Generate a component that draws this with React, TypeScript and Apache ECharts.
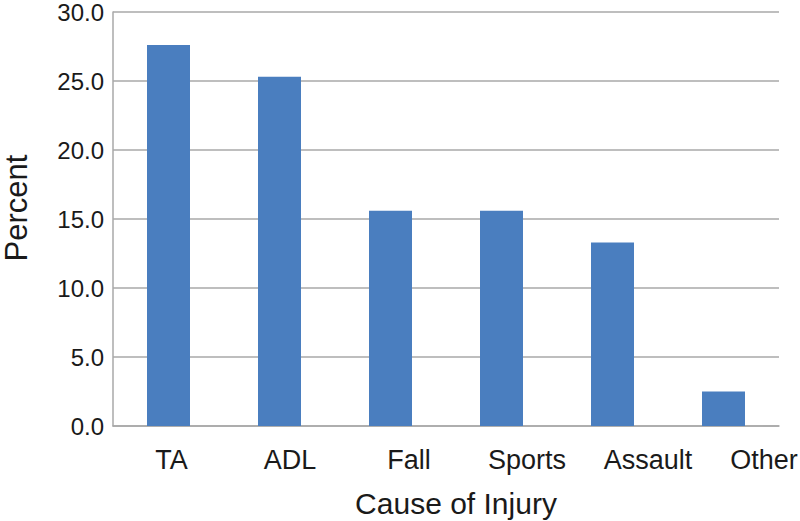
import React, { useEffect, useRef } from "react";
import * as echarts from "echarts";

const categories = ["TA", "ADL", "Fall", "Sports", "Assault", "Other"];
const percentValues = [27.6, 25.3, 15.6, 15.6, 13.3, 2.5];
const yTicks = { min: 0, max: 30, interval: 5 };

// horizontal nudge (px) of each category label, as in the reference
const labelShift = [3, 10.5, 18.5, 25.5, 35.5, 40.5];

const FONT = "'Liberation Sans', Arial, Helvetica, sans-serif";

export default function App() {
  const ref = useRef<HTMLDivElement>(null);
  useEffect(() => {
    if (!ref.current) return;
    const chart = echarts.init(ref.current, undefined, { renderer: "svg" });
    const rich: Record<string, any> = {};
    categories.forEach((c, i) => {
      rich["c" + i] = {
        fontSize: 27,
        fontFamily: FONT,
        color: "#1a1a1a",
        padding: [0, 0, 0, labelShift[i] * 2],
      };
    });
    chart.setOption({
      animation: false,
      backgroundColor: "#ffffff",
      grid: {
        left: 113,
        right: 21,
        top: 12,
        bottom: 95,
        containLabel: false,
        outerBoundsMode: "none",
      },
      xAxis: {
        type: "category",
        data: categories,
        name: "Cause of Injury",
        nameLocation: "middle",
        nameGap: 62,
        nameTextStyle: {
          fontSize: 30,
          fontFamily: FONT,
          color: "#1a1a1a",
          padding: [0, 0, 0, 20],
        },
        axisLine: { show: true, lineStyle: { color: "#a8a8a8", width: 1.5 } },
        axisTick: { show: false },
        axisLabel: {
          interval: 0,
          hideOverlap: false,
          margin: 20,
          formatter: (v: string) => {
            const i = categories.indexOf(v);
            return "{c" + i + "|" + v + "}";
          },
          rich,
        },
      },
      yAxis: {
        type: "value",
        min: yTicks.min,
        max: yTicks.max,
        interval: yTicks.interval,
        name: "Percent",
        nameLocation: "middle",
        nameGap: 82,
        nameRotate: 90,
        nameTextStyle: {
          fontSize: 31,
          lineHeight: 30,
          fontFamily: FONT,
          color: "#1a1a1a",
          padding: [0, 0, 0, 22],
        },
        axisLine: { show: true, lineStyle: { color: "#a8a8a8", width: 1.5 } },
        axisTick: { show: false },
        splitLine: { show: true, lineStyle: { color: "#a8a8a8", width: 1.5 } },
        axisLabel: {
          margin: 9,
          fontSize: 24,
          fontFamily: FONT,
          color: "#1a1a1a",
          formatter: (v: number) => v.toFixed(1),
        },
      },
      series: [
        {
          type: "bar",
          data: percentValues,
          barWidth: 43,
          itemStyle: { color: "#4A7EBF" },
        },
      ],
    });
    return () => chart.dispose();
  }, []);
  return <div ref={ref} style={{ width: 800, height: 521, position: "absolute", left: 0, top: 0 }} />;
}
